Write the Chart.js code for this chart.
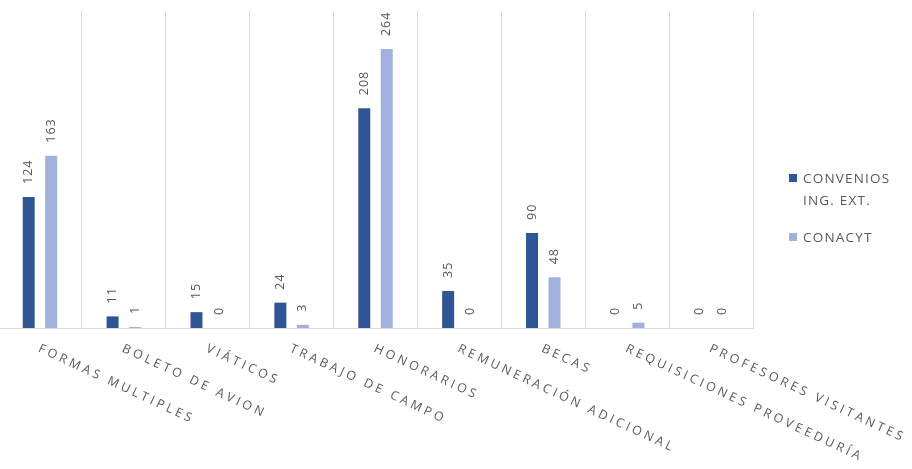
<!DOCTYPE html>
<html>
<head>
<meta charset="utf-8">
<script src="https://cdn.jsdelivr.net/npm/chart.js@4"></script>
<style>
  body{margin:0;background:#fff;width:912px;height:469px;overflow:hidden;position:relative;font-family:"Open Sans",sans-serif;}
  #wrap{position:absolute;left:-2px;top:0;width:914px;height:469px;}
  #legend{position:absolute;left:789px;top:167px;color:#595959;font-size:13.5px;letter-spacing:1.2px;line-height:22px;}
  .item{display:flex;align-items:flex-start;margin-bottom:15px;}
  .sw{width:8px;height:8px;margin-top:7px;margin-right:6px;flex:none;}
  .txt{width:110px;}
</style>
</head>
<body>
<div id="wrap"><canvas id="c"></canvas></div>
<div id="legend"></div>
<script>
// ======= Datos =======
const categorias = ['FORMAS MULTIPLES','BOLETO DE AVION','VIÁTICOS','TRABAJO DE CAMPO','HONORARIOS','REMUNERACIÓN ADICIONAL','BECAS','REQUISICIONES PROVEEDURÍA','PROFESORES VISITANTES'];
const convenios = [124, 11, 15, 24, 208, 35, 90, 0, 0];
const conacyt = [163, 1, 0, 3, 264, 0, 48, 5, 0];
const series = ['CONVENIOS ING. EXT.', 'CONACYT'];
const colores = ['#2f5597', '#9fb1dc'];

const gris = '#595959';

// ======= Etiquetas de valor (verticales, sobre cada barra) =======
const valoresPlugin = {
  id: 'valores',
  afterDatasetsDraw(chart){
    const ctx = chart.ctx;
    ctx.save();
    ctx.font = '12.5px "Open Sans"';
    ctx.fillStyle = gris;
    ctx.letterSpacing = '1px';
    ctx.textAlign = 'left';
    ctx.textBaseline = 'middle';
    chart.data.datasets.forEach((ds, d) => {
      chart.getDatasetMeta(d).data.forEach((bar, i) => {
        ctx.save();
        ctx.translate(bar.x, bar.y - 13);
        ctx.rotate(-Math.PI / 2);
        ctx.fillText(String(ds.data[i]), 0, 0);
        ctx.restore();
      });
    });
    ctx.restore();
  }
};

// ======= Categorías inclinadas bajo el eje =======
const categoriasPlugin = {
  id: 'categorias',
  afterDraw(chart){
    const ctx = chart.ctx;
    const xs = chart.scales.x;
    ctx.save();
    ctx.font = '12.5px "Open Sans"';
    ctx.fillStyle = gris;
    ctx.letterSpacing = '3.3px';
    ctx.textAlign = 'left';
    ctx.textBaseline = 'middle';
    chart.data.labels.forEach((lab, i) => {
      const x = xs.getPixelForValue(i);
      ctx.save();
      ctx.translate(x - 1, chart.chartArea.bottom + 20);
      ctx.rotate(25 * Math.PI / 180);
      ctx.fillText(lab, 0, 0);
      ctx.restore();
    });
    ctx.restore();
  }
};

const chart = new Chart(document.getElementById('c'), {
  type: 'bar',
  data: {
    labels: categorias,
    datasets: [
      {label: series[0], data: convenios, backgroundColor: colores[0]},
      {label: series[1], data: conacyt, backgroundColor: colores[1]}
    ]
  },
  options: {
    responsive: true,
    maintainAspectRatio: false,
    animation: false,
    categoryPercentage: 0.536,
    barPercentage: 0.533,
    layout: {padding: {top: 11, right: 159, bottom: 141, left: 0}},
    plugins: {legend: {display: false}, tooltip: {enabled: false}},
    scales: {
      x: {
        ticks: {display: false},
        grid: {color: '#d9d9d9', drawTicks: false},
        border: {color: '#d9d9d9'},
        afterFit(s){ s.height = 0; }
      },
      y: {display: false, min: 0, max: 300}
    }
  },
  plugins: [valoresPlugin, categoriasPlugin]
});

// ======= Leyenda =======
const leg = document.getElementById('legend');
chart.data.datasets.forEach(ds => {
  const it = document.createElement('div');
  it.className = 'item';
  it.innerHTML = `<span class="sw" style="background:${ds.backgroundColor}"></span><span class="txt">${ds.label}</span>`;
  leg.appendChild(it);
});
</script>
</body>
</html>
